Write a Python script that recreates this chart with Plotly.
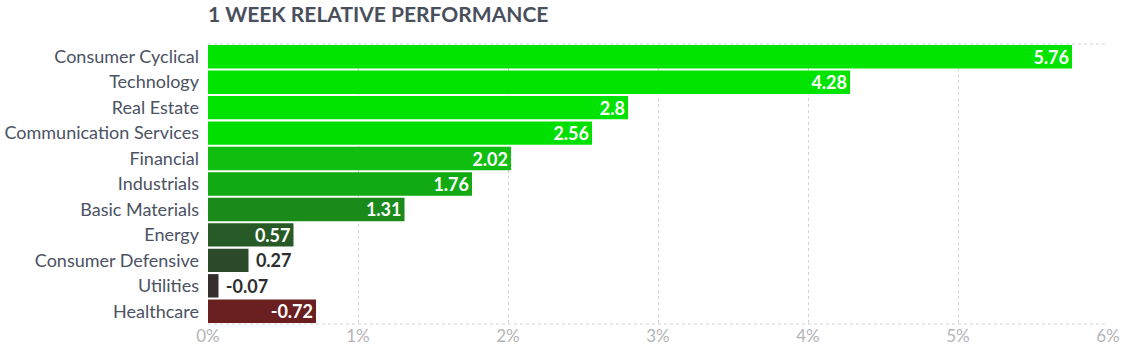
import plotly.graph_objects as go

sectors = ["Consumer Cyclical", "Technology", "Real Estate", "Communication Services",
           "Financial", "Industrials", "Basic Materials", "Energy",
           "Consumer Defensive", "Utilities", "Healthcare"]
values = [5.76, 4.28, 2.8, 2.56, 2.02, 1.76, 1.31, 0.57, 0.27, -0.07, -0.72]
labels = ["5.76", "4.28", "2.8", "2.56", "2.02", "1.76", "1.31", "0.57", "0.27", "-0.07", "-0.72"]
colors = ["#00e400", "#00e400", "#00e300", "#00e000", "#0fbe0f", "#12aa12",
          "#1a8b1a", "#275a27", "#2a4a2a", "#362d2d", "#6a2020"]
text_pos = ["inside"] * 8 + ["outside", "outside", "inside"]
text_col = ["#ffffff"] * 8 + ["#2e2e2e", "#2e2e2e", "#ffffff"]
tick_vals = [0, 1, 2, 3, 4, 5, 6]
tick_text = ["0%", "1%", "2%", "3%", "4%", "5%", "6%"]

lengths = [abs(v) for v in values]
shown = [(" " + t if p == "outside" else t) for t, p in zip(labels, text_pos)]
grid_col = "#d3d3d8"

fig = go.Figure(go.Bar(
    y=sectors, x=lengths, orientation="h",
    marker=dict(color=colors, line=dict(width=0)),
    text=shown, textposition=text_pos, insidetextanchor="end",
    textfont=dict(family="Lato", size=18, color=text_col, weight="bold"),
    outsidetextfont=dict(family="Lato", size=18, color=text_col, weight="bold"),
    insidetextfont=dict(family="Lato", size=18, color=text_col, weight="bold"),
    cliponaxis=False, hoverinfo="skip",
))

fig.update_layout(
    width=1129, height=353,
    margin=dict(l=208, r=21, t=44, b=29),
    paper_bgcolor="white", plot_bgcolor="white",
    bargap=0.08,
    showlegend=False,
    uniformtext=dict(minsize=18, mode="show"),
    font=dict(family="Lato", color="#4b5263"),
    title=dict(text="<b>1 WEEK RELATIVE PERFORMANCE</b>", x=208/1129, xanchor="left",
               xref="container", y=1 - 15/353, yref="container", yanchor="middle",
               font=dict(family="Lato", size=21, color="#4a4f5c")),
    xaxis=dict(range=[0, 6], tickvals=tick_vals, ticktext=tick_text, automargin=False,
               showgrid=True, gridcolor=grid_col, griddash="3px,3px", gridwidth=1,
               zeroline=False, showline=False,
               tickfont=dict(family="Lato", size=17, color="#b4b4b8"), ticks=""),
    yaxis=dict(categoryorder="array", categoryarray=sectors[::-1], automargin=False,
               tickfont=dict(family="Lato", size=18, color="#4b5263"),
               ticks="", showgrid=False, zeroline=False, ticklabelstandoff=8),
    shapes=[
        dict(type="line", xref="paper", yref="paper", x0=0, x1=1, y0=1, y1=1,
             line=dict(color=grid_col, width=1, dash="3px,3px"), layer="below"),
        dict(type="line", xref="paper", yref="paper", x0=0, x1=1, y0=0, y1=0,
             line=dict(color=grid_col, width=1, dash="3px,3px"), layer="below"),
    ],
)

fig.write_html("out.html")
